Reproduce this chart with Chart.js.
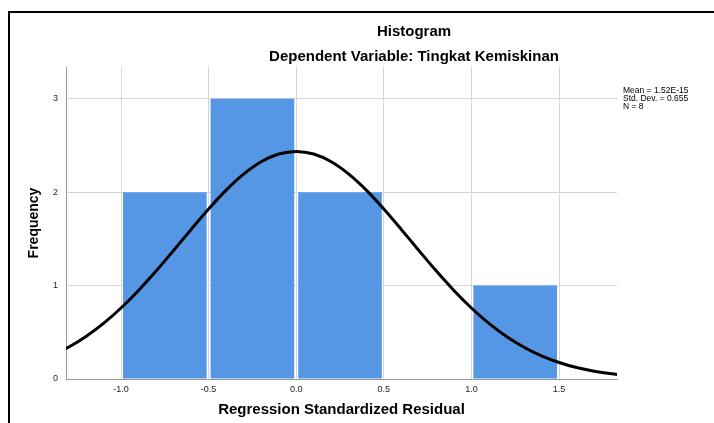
<!DOCTYPE html>
<html>
<head>
<meta charset="utf-8">
<script src="https://cdn.jsdelivr.net/npm/chart.js@4"></script>
<style>
  html, body { margin: 0; padding: 0; background: #fff; }
  #wrap { width: 714px; height: 423px; position: relative; }
</style>
</head>
<body>
<div id="wrap"><canvas id="histChart"></canvas></div>
<script>
// Histogram bins (bin centres) and counts
const binCenters = [-0.75, -0.25, 0.25, 0.75, 1.25];
const binCounts = [2, 3, 2, 0, 1];

// Normal curve
const curveX = [-1.4, -1.3, -1.2, -1.1, -1.0, -0.9, -0.8, -0.7, -0.6, -0.5, -0.4, -0.3, -0.2, -0.1,
                0.0, 0.1, 0.2, 0.3, 0.4, 0.5, 0.6, 0.7, 0.8, 0.9, 1.0, 1.1, 1.2, 1.3, 1.4, 1.5, 1.6, 1.7, 1.8, 1.9];
const curveY = [0.248, 0.340, 0.455, 0.595, 0.760, 0.948, 1.155, 1.376, 1.601, 1.820, 2.022, 2.193, 2.325, 2.408,
                2.436, 2.408, 2.325, 2.193, 2.022, 1.820, 1.601, 1.376, 1.155, 0.948, 0.760, 0.595, 0.455, 0.340, 0.248, 0.177, 0.123, 0.084, 0.056, 0.036];

// Axis ticks
const xTicks = [-1.0, -0.5, 0.0, 0.5, 1.0, 1.5];
const yTicks = [0, 1, 2, 3];

// Text
const titleText = 'Histogram';
const subtitleText = 'Dependent Variable: Tingkat Kemiskinan';
const statsLines = ['Mean = 1.52E-15', 'Std. Dev. = 0.655', 'N = 8'];

const FONT = '"Liberation Sans", Arial, sans-serif';

// Draws the frame, titles and the stats note
const extrasPlugin = {
    id: 'extras',
    afterDraw(chart) {
        const ctx = chart.ctx;
        ctx.save();
        // frame
        ctx.strokeStyle = '#000';
        ctx.lineWidth = 2;
        ctx.beginPath();
        ctx.moveTo(9, 423);
        ctx.lineTo(9, 12);
        ctx.lineTo(714, 12);
        ctx.stroke();

        // titles
        ctx.fillStyle = '#000';
        ctx.textAlign = 'center';
        ctx.textBaseline = 'middle';
        ctx.font = 'bold 15px ' + FONT;
        ctx.fillText(titleText, 414, 32);
        ctx.fillText(subtitleText, 414, 57);

        // stats
        ctx.textAlign = 'left';
        ctx.textBaseline = 'top';
        ctx.font = '8.5px ' + FONT;
        statsLines.forEach((line, i) => {
            ctx.fillText(line, 623, 86 + i * 8);
        });
        ctx.restore();
    }
};

const barData = binCenters.map((x, i) => ({ x: x, y: binCounts[i] }));
const curveData = curveX.map((x, i) => ({ x: x, y: curveY[i] }));

new Chart(document.getElementById('histChart'), {
    data: {
        datasets: [
            {
                type: 'line',
                data: curveData,
                borderColor: '#000',
                borderWidth: 3,
                pointRadius: 0,
                cubicInterpolationMode: 'monotone',
                fill: false,
                clip: 0,
                order: 0
            },
            {
                type: 'bar',
                data: barData,
                backgroundColor: '#5597e5',
                borderWidth: 0,
                categoryPercentage: 1,
                barPercentage: 0.955,
                order: 1
            }
        ]
    },
    options: {
        responsive: true,
        maintainAspectRatio: false,
        animation: false,
        devicePixelRatio: 1,
        layout: { padding: { left: 0, right: 97, top: 67, bottom: 0 } },
        plugins: {
            legend: { display: false },
            tooltip: { enabled: false }
        },
        scales: {
            x: {
                type: 'linear',
                offset: false,
                min: -1.314,
                max: 1.831,
                afterBuildTicks: (scale) => { scale.ticks = xTicks.map(v => ({ value: v })); },
                afterFit: (scale) => { scale.height = 44; },
                grid: { color: '#d6d6d6', lineWidth: 1, drawTicks: false, offset: false },
                border: { color: '#9a9a9a', width: 1 },
                ticks: {
                    padding: 5,
                    color: '#222',
                    font: { family: FONT, size: 9 },
                    callback: (v) => Number(v).toFixed(1)
                },
                title: {
                    display: true,
                    text: 'Regression Standardized Residual',
                    color: '#000',
                    font: { family: FONT, size: 15, weight: 'bold' },
                    padding: { top: 0, bottom: 4 }
                }
            },
            y: {
                type: 'linear',
                min: 0,
                max: 3.34,
                afterBuildTicks: (scale) => { scale.ticks = yTicks.map(v => ({ value: v })); },
                afterFit: (scale) => { scale.width = 66; },
                grid: { color: '#d6d6d6', lineWidth: 1, drawTicks: false },
                border: { color: '#9a9a9a', width: 1 },
                ticks: {
                    padding: 8,
                    color: '#222',
                    font: { family: FONT, size: 9 }
                },
                title: {
                    display: true,
                    text: 'Frequency',
                    color: '#000',
                    font: { family: FONT, size: 14, weight: 'bold' },
                    padding: { top: 26, bottom: 0 }
                }
            }
        }
    },
    plugins: [extrasPlugin]
});
</script>
</body>
</html>
